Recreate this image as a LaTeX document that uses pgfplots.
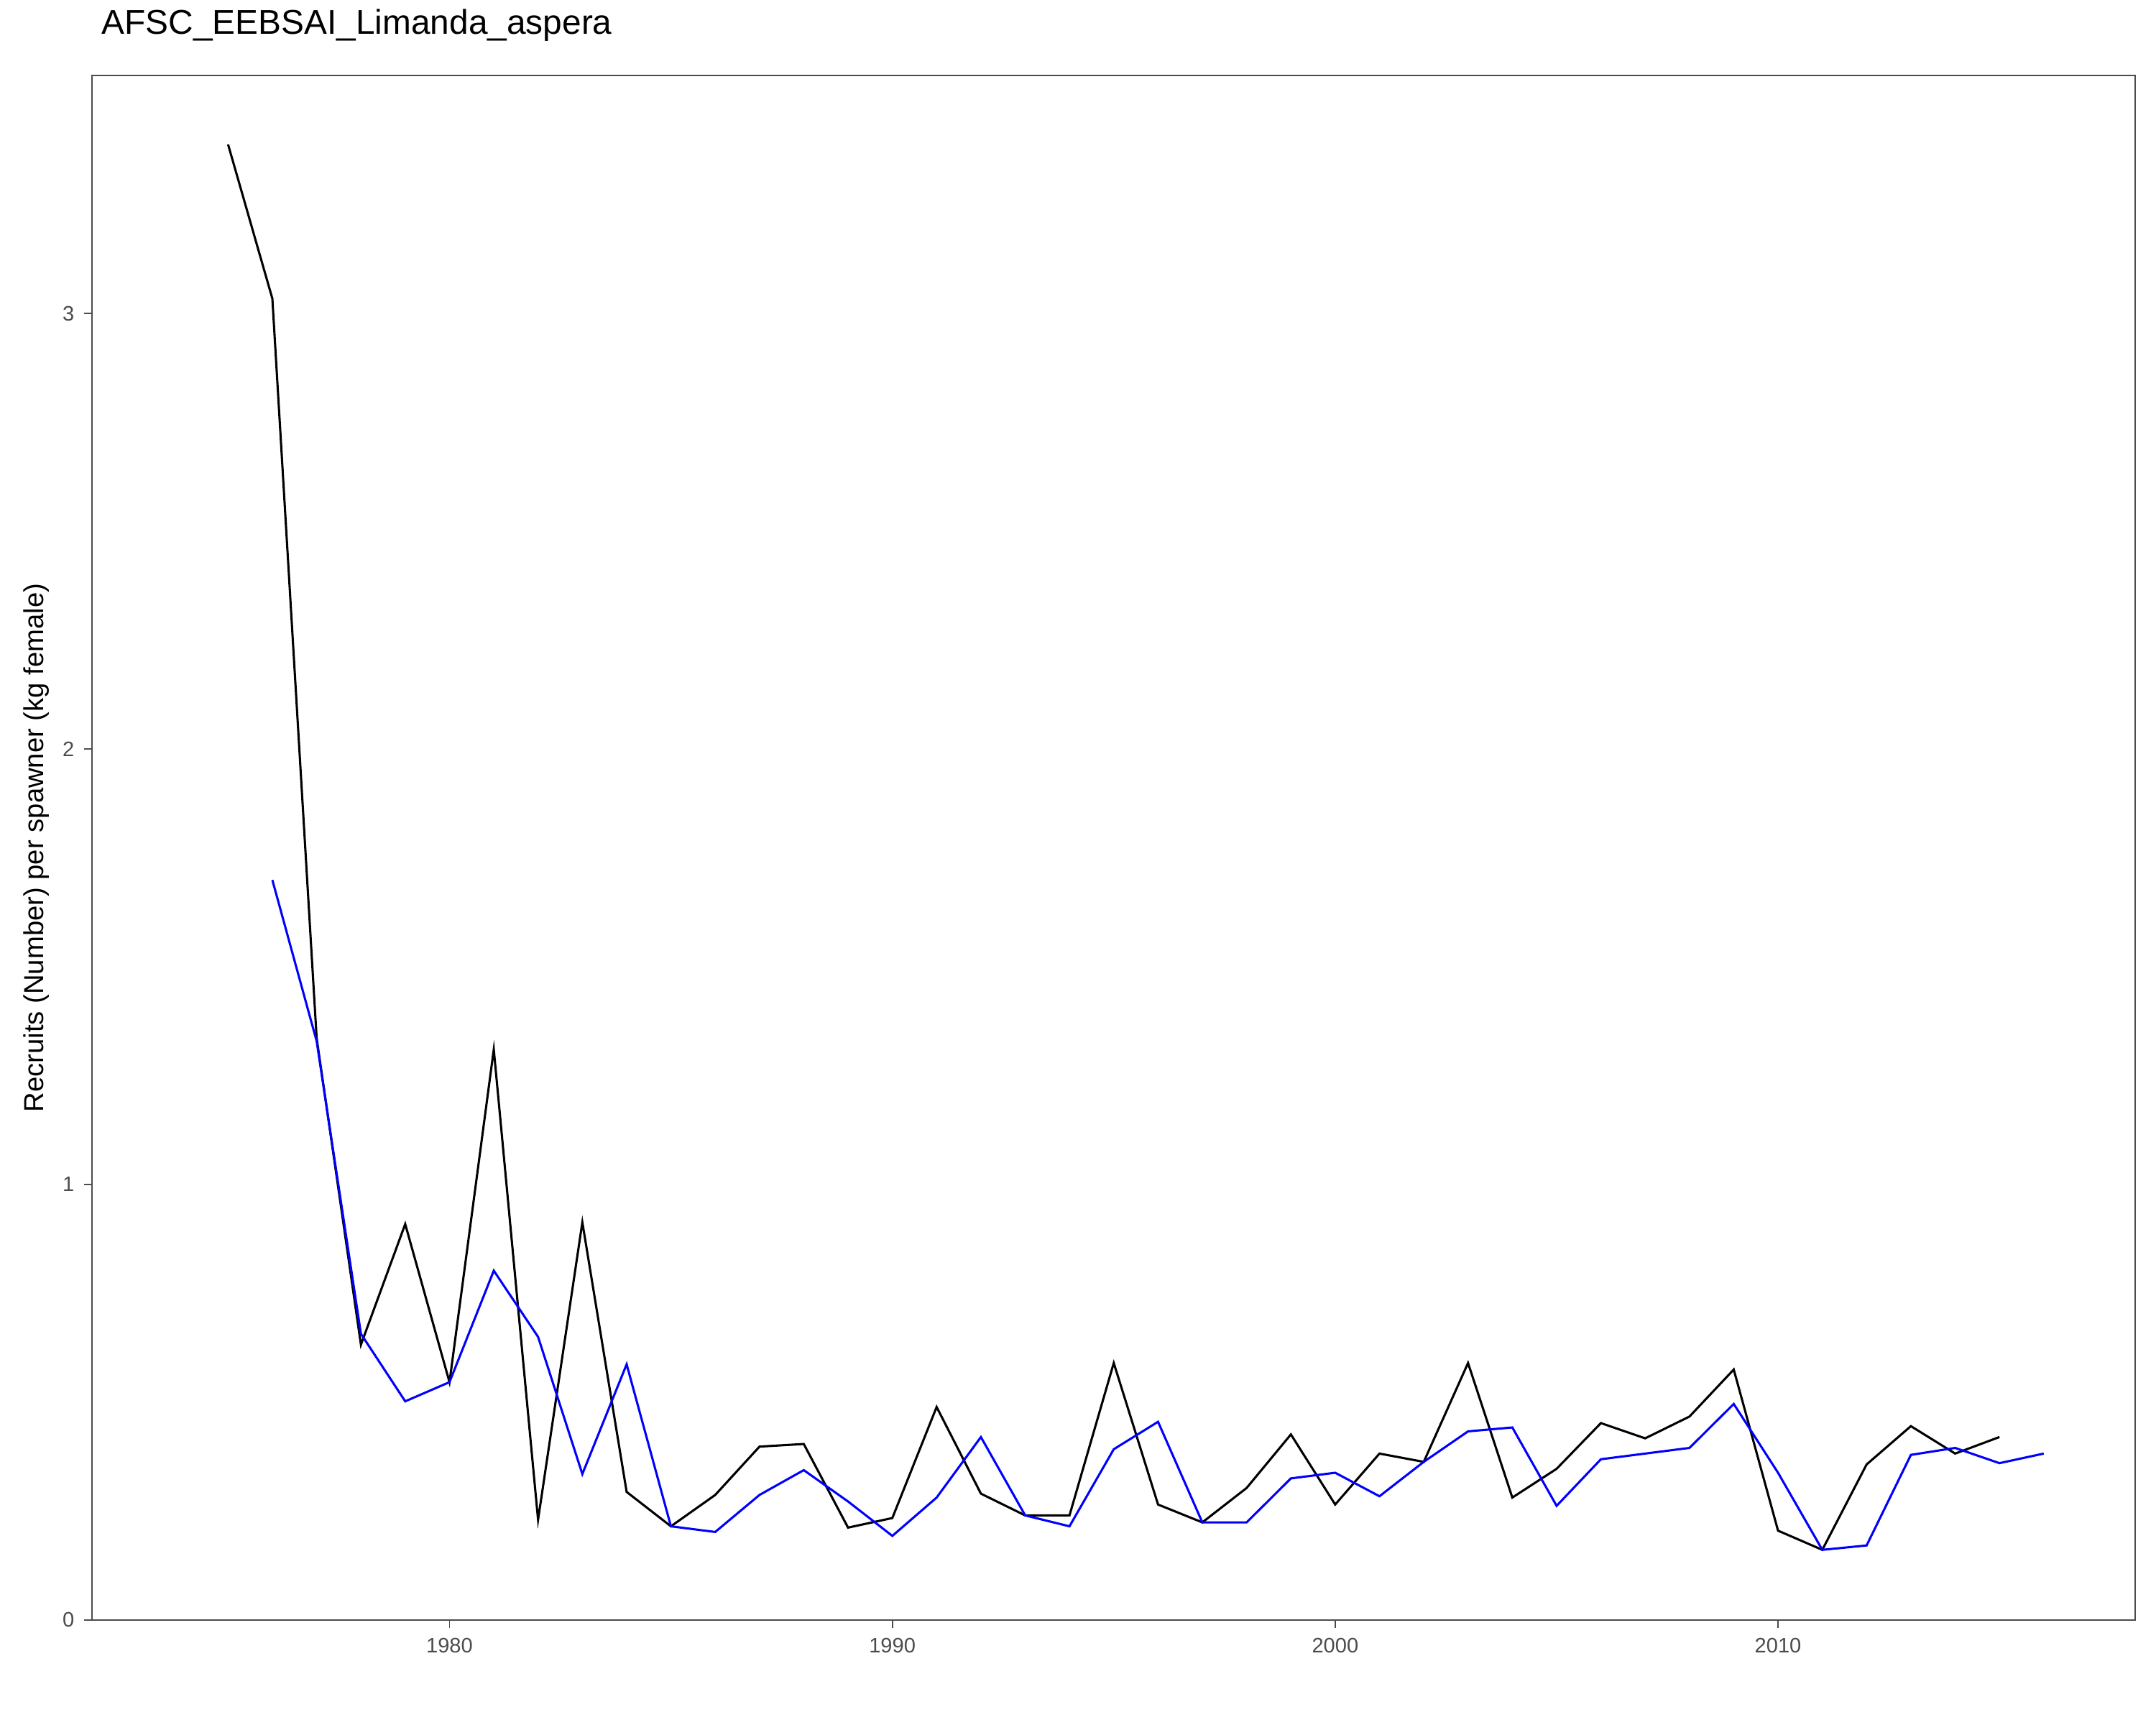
\documentclass[border=0pt]{standalone}
\usepackage{pgfplots}
\pgfplotsset{compat=1.18}
\usepackage{fontspec}
\setmainfont{Liberation Sans}
\begin{document}
\begin{tikzpicture}
\path[use as bounding box] (-33.5pt,-38pt) rectangle (750.5pt,589pt);
\begin{axis}[scale only axis, width=743pt, height=561.5pt,
 at={(0,0)}, anchor=south west,
 xmin=1971.93, xmax=2018.07, ymin=0, ymax=3.546,
 xtick={1980,1990,2000,2010}, ytick={0,1,2,3},
 /pgf/number format/assume math mode=true,
 xticklabel style={/pgf/number format/1000 sep={}},
 tick label style={font=\fontsize{7.6}{9}\selectfont, text=black!70},
 tick align=outside, tick style={black!70, line width=0.5pt},
 major tick length=3pt, xtick pos=bottom, ytick pos=left,
 axis line style={black!70, line width=0.5pt},
 ylabel={Recruits (Number) per spawner (kg female)},
 ylabel style={font=\fontsize{10}{12}\selectfont, at={(axis description cs:0,0.5)}, anchor=south, yshift=12pt},
 title={AFSC\_EEBSAI\_Limanda\_aspera},
 title style={font=\fontsize{12.5}{15}\selectfont, at={(axis description cs:0,1)}, anchor=south west, yshift=3pt},
]
\addplot[black, line width=0.8pt] coordinates {
(1975,3.388)(1976,3.034)(1977,1.336)(1978,0.632)(1979,0.909)(1980,0.546)(1981,1.310)(1982,0.230)(1983,0.913)(1984,0.294)(1985,0.215)(1986,0.287)(1987,0.398)(1988,0.404)(1989,0.212)(1990,0.234)(1991,0.489)(1992,0.290)(1993,0.240)(1994,0.240)(1995,0.590)(1996,0.265)(1997,0.224)(1998,0.303)(1999,0.426)(2000,0.265)(2001,0.382)(2002,0.363)(2003,0.590)(2004,0.281)(2005,0.347)(2006,0.452)(2007,0.417)(2008,0.467)(2009,0.575)(2010,0.205)(2011,0.161)(2012,0.357)(2013,0.445)(2014,0.382)(2015,0.420)};
\addplot[blue, line width=0.8pt] coordinates {
(1976,1.699)(1977,1.329)(1978,0.657)(1979,0.502)(1980,0.546)(1981,0.802)(1982,0.650)(1983,0.335)(1984,0.587)(1985,0.215)(1986,0.202)(1987,0.287)(1988,0.344)(1989,0.272)(1990,0.193)(1991,0.281)(1992,0.420)(1993,0.240)(1994,0.215)(1995,0.392)(1996,0.455)(1997,0.224)(1998,0.224)(1999,0.325)(2000,0.338)(2001,0.284)(2002,0.363)(2003,0.433)(2004,0.442)(2005,0.262)(2006,0.369)(2007,0.382)(2008,0.395)(2009,0.496)(2010,0.338)(2011,0.161)(2012,0.171)(2013,0.379)(2014,0.395)(2015,0.360)(2016,0.382)};
\end{axis}
\end{tikzpicture}
\end{document}
